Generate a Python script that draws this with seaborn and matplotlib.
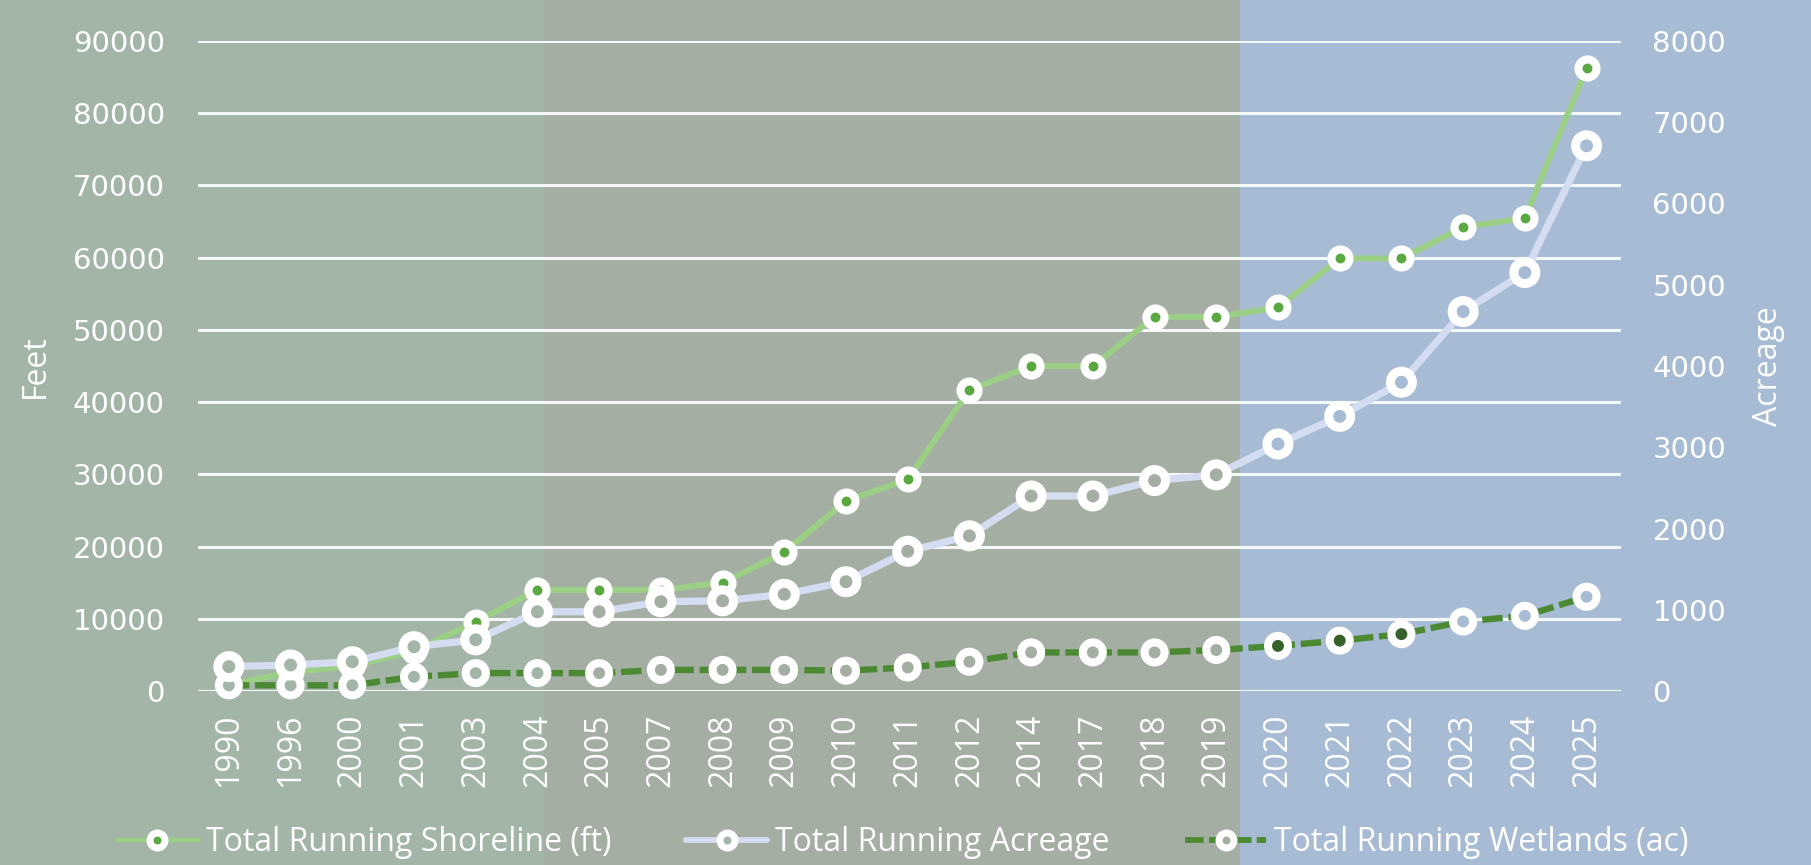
import numpy as np
import pandas as pd
import matplotlib
matplotlib.use("Agg")
import matplotlib.pyplot as plt
from matplotlib.patches import Rectangle
from matplotlib.lines import Line2D
import seaborn as sns

# ---------------- data ----------------
years = ["1990", "1996", "2000", "2001", "2003", "2004", "2005", "2007", "2008",
         "2009", "2010", "2011", "2012", "2014", "2017", "2018", "2019", "2020",
         "2021", "2022", "2023", "2024", "2025"]
shoreline_ft = [800, 2600, 3500, 5500, 9600, 14000, 14000, 14000, 15000, 19200,
                26300, 29300, 41700, 45000, 45000, 51800, 51800, 53100, 59900,
                59900, 64200, 65500, 86200]
acreage_ac = [300, 320, 360, 545, 630, 975, 975, 1100, 1110, 1190, 1345, 1720,
              1910, 2400, 2400, 2590, 2660, 3040, 3380, 3800, 4670, 5150, 6710]
wetlands_ac = [70, 70, 70, 175, 220, 220, 220, 260, 260, 260, 250, 290, 360,
               475, 475, 475, 505, 555, 620, 700, 855, 925, 1160]
feet_ticks = list(range(0, 90001, 10000))
acre_ticks = list(range(0, 8001, 1000))
series_names = ["Total Running Shoreline (ft)", "Total Running Acreage",
                "Total Running Wetlands (ac)"]
left_label = "Feet"
right_label = "Acreage"

# ---------------- style ----------------
sns.set_theme(style="white")
plt.rcParams["font.family"] = ["Open Sans", "DejaVu Sans"]

W, H = 1811, 865
BG_LEFT = "#a3b5a6"
BG_MID = "#a4aea2"
BG_BLUE = "#a7bcd4"
C_SHORE = "#9ccf86"
C_SHORE_DOT = "#5aa840"
C_ACRE = "#d3dcf1"
C_WET = "#4b8a33"
C_WET_DARK = "#37612b"
GRID = "#f3f7f5"

fig = plt.figure(figsize=(W / 100, H / 100), dpi=100)
fig.patch.set_facecolor(BG_BLUE)
fig.add_artist(Rectangle((0, 0), 544 / W, 1, transform=fig.transFigure,
                         facecolor=BG_LEFT, edgecolor="none", zorder=-10))
fig.add_artist(Rectangle((544 / W, 0), (1240 - 544) / W, 1, transform=fig.transFigure,
                         facecolor=BG_MID, edgecolor="none", zorder=-10))

ax = fig.add_axes([198 / W, 1 - 691 / H, 1422.5 / W, 650 / H])
ax.set_facecolor("none")
ax2 = ax.twinx()
ax2.set_facecolor("none")

n = len(years)
df = pd.DataFrame({"pos": np.arange(n), "year": years, "shore": shoreline_ft,
                   "acre": acreage_ac, "wet": wetlands_ac})

def region_color(i):
    if i <= 5:
        return BG_LEFT
    if i <= 16:
        return BG_MID
    return BG_BLUE

acre_face = [region_color(i) for i in range(n)]
wet_face = [C_WET_DARK if 17 <= i <= 19 else region_color(i) for i in range(n)]

WET_DASH = (0, (3.2, 0.9))

# shoreline on the left axis
sns.lineplot(data=df, x="pos", y="shore", ax=ax, color=C_SHORE, linewidth=4.3,
             zorder=3, legend=False)
ax.scatter(df["pos"], df["shore"], s=169, facecolors=C_SHORE_DOT, edgecolors="white",
           linewidths=5.8, zorder=4, clip_on=False)

# acreage & wetlands on the right axis
sns.lineplot(data=df, x="pos", y="wet", ax=ax2, color=C_WET, linewidth=4.6,
             linestyle=WET_DASH, zorder=3, legend=False)
ax2.scatter(df["pos"], df["wet"], s=207, facecolors=wet_face, edgecolors="white",
            linewidths=5.8, zorder=4, clip_on=False)
sns.lineplot(data=df, x="pos", y="acre", ax=ax2, color=C_ACRE, linewidth=5.2,
             zorder=5, legend=False)
ax2.scatter(df["pos"], df["acre"], s=250, facecolors=acre_face, edgecolors="white",
            linewidths=6.5, zorder=6, clip_on=False)

# axes
ax.set_xlim(-0.5, 22.55)
ax.set_ylim(0, 90000)
ax2.set_ylim(0, 8000)

ax.set_xticks(range(n))
ax.set_xticklabels(years, rotation=90, color="white", fontsize=23)
ax.tick_params(axis="x", length=0, pad=16)

ax.set_yticks(feet_ticks)
ax.set_yticklabels([str(v) for v in feet_ticks], color="white", fontsize=21,
                   fontfamily="DejaVu Sans")
ax.tick_params(axis="y", length=0, pad=24)

ax2.set_yticks(acre_ticks)
ax2.set_yticklabels([str(v) for v in acre_ticks], color="white", fontsize=21,
                    fontfamily="DejaVu Sans")
ax2.tick_params(axis="y", length=0, pad=23)

ax.grid(axis="y", color=GRID, linewidth=2.2)
ax.grid(axis="x", visible=False)
ax2.grid(False)
ax.set_axisbelow(True)
for a in (ax, ax2):
    for s in a.spines.values():
        s.set_visible(False)

ax.set_xlabel("")
ax.set_ylabel(left_label, color="white", fontsize=23)
ax.yaxis.label.set_va("center")
ax.yaxis.set_label_coords(-0.114, 0.5)
ax2.set_ylabel(right_label, color="white", fontsize=23, rotation=90)
ax2.yaxis.label.set_va("center")
ax2.yaxis.set_label_coords(1.1037, 0.5)

# legend
handles = [
    Line2D([], [], color=C_SHORE, linewidth=3.2, marker="o", markersize=10.8,
           markerfacecolor=C_SHORE_DOT, markeredgecolor="white", markeredgewidth=5),
    Line2D([], [], color=C_ACRE, linewidth=4.2, marker="o", markersize=10.8,
           markerfacecolor=BG_LEFT, markeredgecolor="white", markeredgewidth=5),
    Line2D([], [], color=C_WET, linewidth=4.2, linestyle=WET_DASH, marker="o",
           markersize=10.8, markerfacecolor=BG_MID, markeredgecolor="white",
           markeredgewidth=5),
]
leg = fig.legend(handles, series_names, loc="center", bbox_to_anchor=(0.4984, 0.026),
                 ncol=3, frameon=False, fontsize=23, labelcolor="white",
                 handlelength=2.54, handletextpad=0.25, columnspacing=2.35)

fig.savefig("out.png", dpi=100, facecolor=fig.get_facecolor())
